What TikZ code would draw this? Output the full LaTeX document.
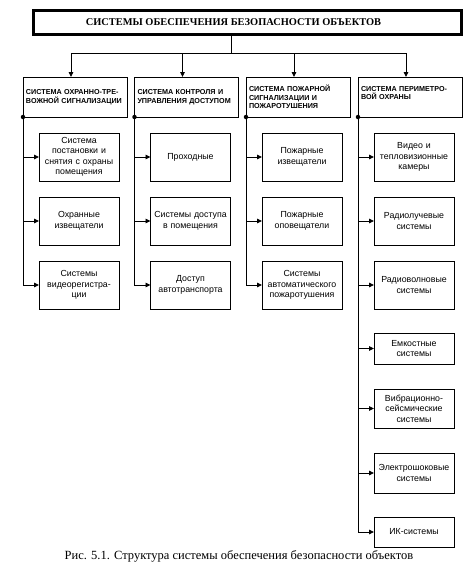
\documentclass[tikz,border=0pt]{standalone}
\usepackage{fontspec}
\setmainfont{Liberation Serif}
\setsansfont{Liberation Sans}
\usetikzlibrary{arrows.meta, positioning}

\begin{document}
\begin{tikzpicture}[x=1pt, y=-1pt, line width=0.9pt,
    titlebox/.style={rectangle, draw, line width=3pt, outer sep=0pt, minimum width=428pt, minimum height=24pt, font=\bfseries\fontsize{10.4}{12}\selectfont},
    headbox/.style={rectangle, draw, outer sep=0pt, minimum width=104pt, minimum height=40pt, text width=98pt, inner xsep=3pt, align=left, font=\sffamily\bfseries\fontsize{7.2}{8.5}\selectfont},
    subbox/.style={rectangle, draw, outer sep=0pt, minimum width=80pt, minimum height=48pt, text width=78pt, inner xsep=1pt, inner ysep=2pt, align=center, font=\sffamily\fontsize{8.8}{10.5}\selectfont},
    data_connector/.style={circle, fill, inner sep=0pt, minimum size=4.5pt},
    arrow/.style={-{Triangle[length=5pt, width=4.5pt]}}]

    \useasboundingbox (0,0) rectangle (474,566);

    % Title
    \node[titlebox] (title) at (247.5,22.5) {СИСТЕМЫ ОБЕСПЕЧЕНИЯ БЕЗОПАСНОСТИ ОБЪЕКТОВ\hspace*{28pt}};
    \coordinate (bus) at (231,53);

    % Groups
    \node[headbox] (h1) at (75,97) {СИСТЕМА ОХРАННО-ТРЕ-\\ВОЖНОЙ СИГНАЛИЗАЦИИ};
    \node[headbox, right=7.5pt of h1] (h2) {СИСТЕМА КОНТРОЛЯ И\\УПРАВЛЕНИЯ ДОСТУПОМ};
    \node[headbox, right=7.5pt of h2] (h3) {СИСТЕМА ПОЖАРНОЙ\\СИГНАЛИЗАЦИИ И\\ПОЖАРОТУШЕНИЯ};
    \node[headbox, right=8pt of h3] (h4) {СИСТЕМА ПЕРИМЕТРО-\\ВОЙ ОХРАНЫ\\\mbox{}};

    % Title to groups
    \draw (title.south -| bus) -- (bus);
    \draw ([xshift=-4pt, yshift=24pt]h1.north) -- ([xshift=-4pt, yshift=24pt]h4.north);
    \foreach \h in {h1,h2,h3,h4} {
        \draw[arrow] ([xshift=-4pt, yshift=24pt]\h.north) -- ([xshift=-4pt]\h.north);
    }

    % Subsystems
    \node[subbox, below right=16pt and 16pt of h1.south west] (s11) {Система\\постановки и\\снятия с охраны\\помещения};
    \node[subbox, below=16pt of s11] (s12) {Охранные\\извещатели};
    \node[subbox, below=16pt of s12] (s13) {Системы\\видеорегистра-\\ции};

    \node[subbox, below right=16pt and 16pt of h2.south west] (s21) {Проходные};
    \node[subbox, below=16pt of s21] (s22) {Системы доступа\\в помещения};
    \node[subbox, below=16pt of s22] (s23) {Доступ\\автотранспорта};

    \node[subbox, below right=16pt and 16pt of h3.south west] (s31) {Пожарные\\извещатели};
    \node[subbox, below=16pt of s31] (s32) {Пожарные\\оповещатели};
    \node[subbox, below=16pt of s32] (s33) {Системы\\автоматического\\пожаротушения};

    \node[subbox, below right=16pt and 16pt of h4.south west] (s41) {Видео и\\тепловизионные\\камеры};
    \node[subbox, below=16pt of s41] (s42) {Радиолучевые\\системы};
    \node[subbox, below=16pt of s42] (s43) {Радиоволновые\\системы};
    \node[subbox, minimum height=31pt, below=24pt of s43] (s44) {Емкостные\\системы};
    \node[subbox, minimum height=39pt, below=25pt of s44] (s45) {Вибрационно-\\сейсмические\\системы};
    \node[subbox, minimum height=40pt, below=25pt of s45] (s46) {Электрошоковые\\системы};
    \node[subbox, minimum height=30pt, below=24pt of s46] (s47) {ИК-системы};

    % Groups to subsystems
    \node[data_connector] (d1) at (h1.south west) {};
    \node[data_connector] (d2) at (h2.south west) {};
    \node[data_connector] (d3) at (h3.south west) {};
    \node[data_connector] (d4) at (h4.south west) {};

    \draw[arrow] (d1.center) |- (s13.west);
    \draw[arrow] (d2.center) |- (s23.west);
    \draw[arrow] (d3.center) |- (s33.west);
    \draw[arrow] (d4.center) |- (s47.west);
    \foreach \d/\s in {d1/s11, d1/s12, d2/s21, d2/s22, d3/s31, d3/s32, d4/s41, d4/s42, d4/s43, d4/s44, d4/s45, d4/s46} {
        \draw[arrow] (\d.center |- \s.west) -- (\s.west);
    }

    % Caption
    \node[font=\fontsize{12.5}{14}\selectfont] (caption) at (239,556) {Рис. 5.1. Структура системы обеспечения безопасности объектов};

\end{tikzpicture}
\end{document}
